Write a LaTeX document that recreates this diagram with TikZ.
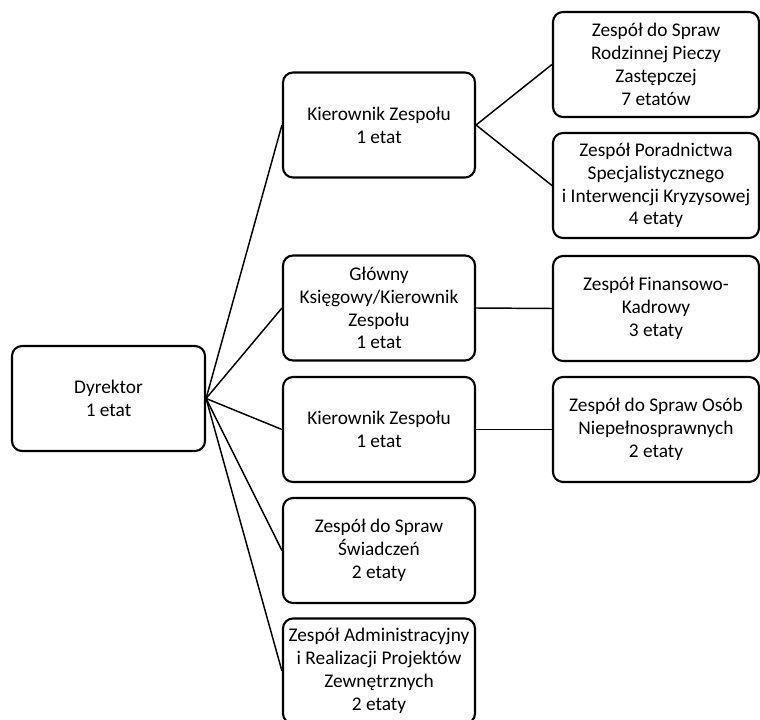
\documentclass[tikz,border=0pt]{standalone}
\usepackage{fontspec}
\setmainfont{Carlito}
\begin{document}
\begin{tikzpicture}[x=0.75pt,y=-0.75pt,
  orgbox/.style={draw=black, line width=1.6pt, rounded corners=7.5pt, fill=white,
    align=center, inner sep=0pt, minimum height=78.75pt,
    font=\fontsize{14.5}{17.1}\selectfont},
  midbox/.style={orgbox, minimum width=144pt},
  rightbox/.style={orgbox, minimum width=154.5pt},
  conn/.style={draw=black, line width=1.1pt}]
\useasboundingbox (0,0) rectangle (760,720);
\clip (0,0) rectangle (760,720);
\node[orgbox, minimum width=144.75pt] (dyr) at (108.5,398.5) {Dyrektor\\1 etat};
\node[midbox] (m1) at (379,125) {Kierownik Zespołu\\1 etat};
\node[midbox] (m2) at (379,308) {Główny\\Księgowy/Kierownik\\Zespołu\\1 etat};
\node[midbox] (m3) at (379,429.5) {Kierownik Zespołu\\1 etat};
\node[midbox] (m4) at (379,550.5) {Zespół do Spraw\\Świadczeń\\2 etaty};
\node[midbox] (m5) at (379,671) {Zespół Administracyjny\\i Realizacji Projektów\\Zewnętrznych\\2 etaty};
\node[rightbox] (r1) at (656,64.5) {Zespół do Spraw\\Rodzinnej Pieczy\\Zastępczej\\7 etatów};
\node[rightbox] (r2) at (656,185.5) {Zespół Poradnictwa\\Specjalistycznego\\i Interwencji Kryzysowej\\4 etaty};
\node[rightbox] (r3) at (656,308.5) {Zespół Finansowo-\\Kadrowy\\3 etaty};
\node[rightbox] (r4) at (656,429.5) {Zespół do Spraw Osób\\Niepełnosprawnych\\2 etaty};
\foreach \m in {m1,m2,m3,m4,m5} \draw[conn] (dyr.east) -- (\m.west);
\draw[conn] (m1.east) -- (r1.west);
\draw[conn] (m1.east) -- (r2.west);
\draw[conn] (m2.east) -- (r3.west);
\draw[conn] (m3.east) -- (r4.west);
\end{tikzpicture}
\end{document}
